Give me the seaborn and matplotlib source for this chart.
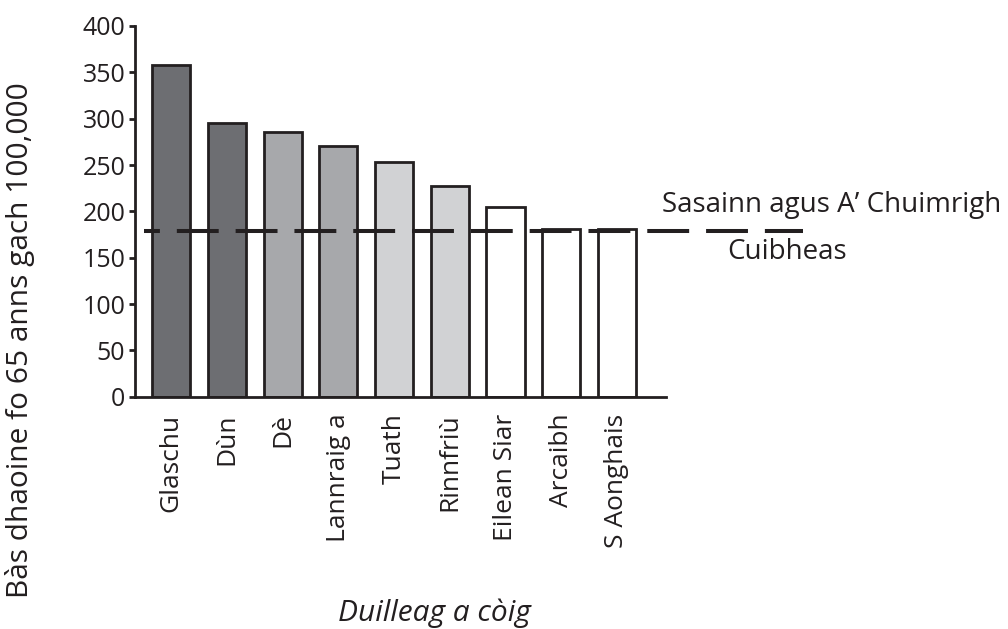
import pandas as pd
import seaborn as sns
import matplotlib.pyplot as plt

# dàta
sgìrean = ['Glaschu', 'Dùn', 'Dè', 'Lannraig a', 'Tuath', 'Rinnfriù',
           'Eilean Siar', 'Arcaibh', 'S Aonghais']
bàsan = [358, 295, 286, 271, 253, 227, 205, 181, 181]
dathan = ['#6d6e72', '#6d6e72', '#a7a8ab', '#a7a8ab', '#d1d2d4', '#d1d2d4',
          '#ffffff', '#ffffff', '#ffffff']
cuibheas = 179

df = pd.DataFrame({'sgìre': sgìrean, 'bàs': bàsan})

sns.set_style('white')
plt.rcParams['font.family'] = ['Open Sans', 'DejaVu Sans']

fig = plt.figure(figsize=(10.08, 6.29), dpi=100)
ax = fig.add_axes([0.1339, 0.3693, 0.5268, 0.5894])

sns.barplot(x='sgìre', y='bàs', hue='sgìre', data=df, order=sgìrean,
            palette=dict(zip(sgìrean, dathan)), legend=False, width=0.685,
            edgecolor='#231f20', linewidth=2, saturation=1, ax=ax)

# loidhne a' chuibheis
ax.axhline(cuibheas, xmin=0.017, xmax=1.258, clip_on=False, color='#231f20',
           lw=2.9, linestyle=(6.45, (10.4, 4.2)), zorder=5)

ax.set_xlim(-0.65, 8.88)
ax.set_ylim(0, 400)
ax.set_yticks(range(0, 401, 50))
ax.set_xlabel('')
ax.set_ylabel('')
sns.despine(ax=ax)
for s in ['left', 'bottom']:
    ax.spines[s].set_linewidth(2)
    ax.spines[s].set_color('#231f20')
ax.tick_params(axis='y', length=4, width=2, pad=3, labelsize=18, colors='#231f20', left=True)
ax.tick_params(axis='x', length=0, pad=12, labelsize=19, labelrotation=90, colors='#231f20')

fig.text(0.02, 0.4595, 'Bàs dhaoine fo 65 anns gach 100,000', rotation=90,
         ha='center', va='center', fontsize=21.5, color='#231f20')
fig.text(0.657, 0.674, 'Sasainn agus A’ Chuimrigh', ha='left', va='center',
         fontsize=20, color='#231f20')
fig.text(0.721, 0.599, 'Cuibheas', ha='left', va='center', fontsize=20, color='#231f20')
fig.text(0.4306, 0.0254, 'Duilleag a còig', ha='center', va='center',
         fontsize=21.5, style='italic', color='#231f20')

plt.savefig('out.png', dpi=100)
